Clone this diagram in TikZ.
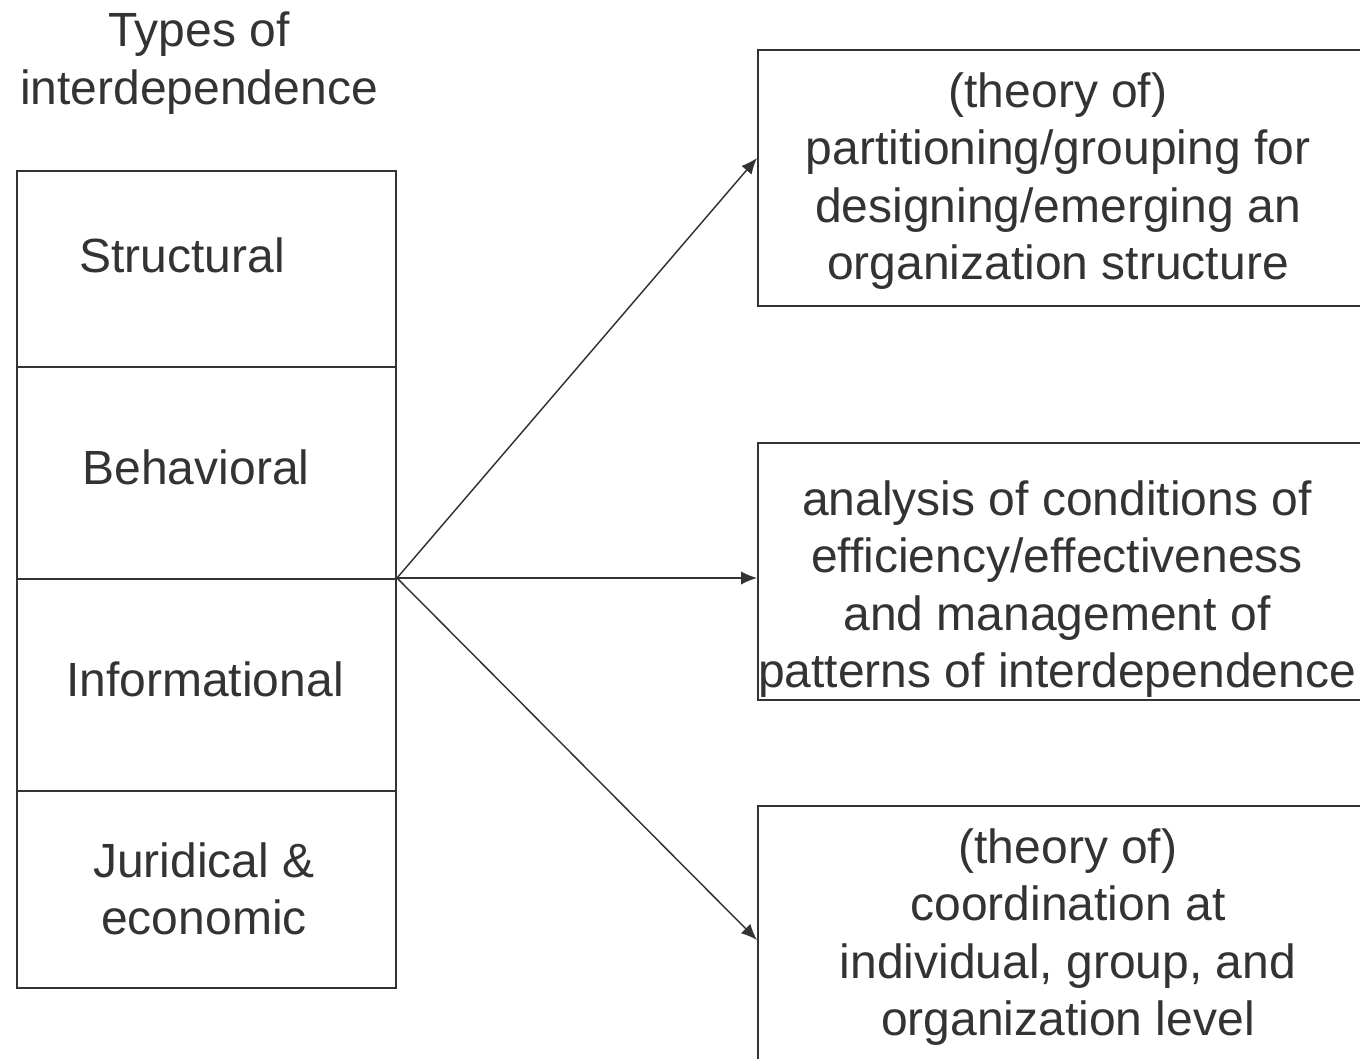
\documentclass[tikz,border=0pt]{standalone}
\usepackage{fontspec}
\setmainfont{Liberation Sans}
\usetikzlibrary{arrows.meta}
\definecolor{ink}{HTML}{333333}
\begin{document}
\begin{tikzpicture}[x=0.75pt,y=-0.75pt,
  cell/.style={draw=ink,line width=1.5pt,minimum width=379*0.75pt,inner sep=0pt,anchor=north west},
  outbox/.style={draw=ink,line width=1.3pt,minimum width=700*0.75pt,inner sep=0pt,anchor=north west},
  lbl/.style={text=ink,font=\fontsize{36}{43}\selectfont,align=center,inner sep=0pt},
  arr/.style={draw=ink,line width=1.1pt,-{Latex[length=12pt,width=10pt]}}]
\useasboundingbox (0,0) rectangle (1360,1059);
\fill[white] (0,0) rectangle (1360,1059);
% left column cells
\node[cell,minimum height=196*0.75pt] (c1) at (16,170) {};
\node[cell,minimum height=212*0.75pt] (c2) at (16,366) {};
\node[cell,minimum height=212*0.75pt] (c3) at (16,578) {};
\node[cell,minimum height=197*0.75pt] (c4) at (16,790) {};
% right boxes
\node[outbox,minimum height=256*0.75pt] (top) at (757,49) {};
\node[outbox,minimum height=257*0.75pt] (mid) at (757,442) {};
\node[outbox,minimum height=300*0.75pt] (bot) at (757,805) {};
% labels
\node[lbl] (title) at (199,63) {Types of\\interdependence};
\node[lbl] (l1) at (182,255) {Structural};
\node[lbl] (l2) at (196,467) {Behavioral};
\node[lbl] (l3) at (205,679) {Informational};
\node[lbl] (l4) at (204,889) {Juridical \&\\economic};
\node[lbl] (t1) at (1058,181) {(theory of)\\partitioning/grouping for\\designing/emerging an\\organization structure};
\node[lbl] (t2) at (1057,589) {analysis of conditions of\\efficiency/effectiveness\\and management of\\patterns of interdependence};
\node[lbl] (t3) at (1068,937) {(theory of)\\coordination at\\individual, group, and\\organization level};
% connectors
\coordinate (hub) at (c3.north east);
\coordinate (e1) at (757,158);
\coordinate (e2) at (757,578);
\coordinate (e3) at (757,940);
\draw[arr] (hub) -- (e1);
\draw[arr] (hub) -- (e2);
\draw[arr] (hub) -- (e3);
\end{tikzpicture}
\end{document}
